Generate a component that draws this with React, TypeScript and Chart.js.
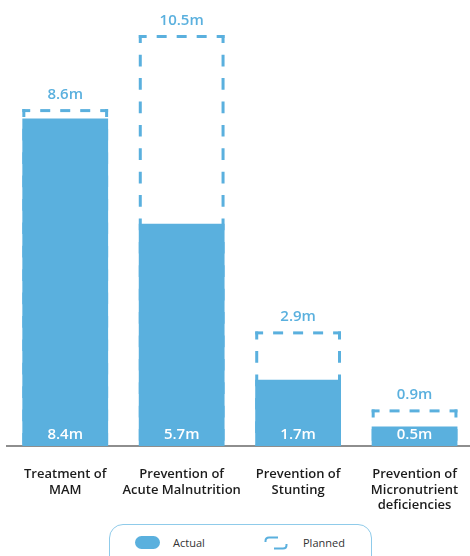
import React, { useEffect, useRef } from "react";
import { Chart, registerables } from "chart.js";

Chart.register(...registerables);

// Programme categories (multi-line tick labels)
const categories: string[][] = [
  ["Treatment of", "MAM"],
  ["Prevention of", "Acute Malnutrition"],
  ["Prevention of", "Stunting"],
  ["Prevention of", "Micronutrient", "deficiencies"],
];
// Beneficiaries reached vs. planned, in millions
const actualValues = [8.4, 5.7, 1.7, 0.5];
const plannedValues = [8.6, 10.5, 2.9, 0.9];
const valueSuffix = "m";

const BLUE = "#5AB0DE";
const FONT = '"Open Sans", "Noto Sans", sans-serif';

const fmt = (v: number) => `${v.toFixed(1)}${valueSuffix}`;

// Dashed outline around each "planned" bar, drawn beneath the solid "actual" bars
const plannedOutline = {
  id: "plannedOutline",
  beforeDatasetsDraw(chart: any) {
    const meta = chart.getDatasetMeta(1);
    const ctx = chart.ctx as CanvasRenderingContext2D;
    ctx.save();
    ctx.strokeStyle = BLUE;
    ctx.lineWidth = 3;
    ctx.lineCap = "butt";
    meta.data.forEach((bar: any) => {
      const { x, y, base, width } = bar.getProps(["x", "y", "base", "width"], true);
      const L = x - width / 2;
      const R = x + width / 2;
      const W = R - L;
      // top edge, dash pattern centred on the bar
      ctx.setLineDash([10, 10]);
      ctx.lineDashOffset = (((5 - W / 2) % 20) + 20) % 20;
      ctx.beginPath();
      ctx.moveTo(L, y);
      ctx.lineTo(R, y);
      ctx.stroke();
      // side edges
      ctx.setLineDash([11.7, 11.7]);
      ctx.lineDashOffset = 3.7;
      ctx.beginPath();
      ctx.moveTo(L + 1.5, y - 1.5);
      ctx.lineTo(L + 1.5, base);
      ctx.stroke();
      ctx.beginPath();
      ctx.moveTo(R - 1.5, y - 1.5);
      ctx.lineTo(R - 1.5, base);
      ctx.stroke();
    });
    ctx.restore();
  },
};

// Value labels: planned above the dashed box, actual inside the bar foot
const valueLabels = {
  id: "valueLabels",
  afterDatasetsDraw(chart: any) {
    const ctx = chart.ctx as CanvasRenderingContext2D;
    const actualMeta = chart.getDatasetMeta(0);
    const plannedMeta = chart.getDatasetMeta(1);
    ctx.save();
    ctx.font = `600 15px ${FONT}`;
    ctx.textAlign = "center";
    ctx.textBaseline = "middle";
    plannedMeta.data.forEach((bar: any, i: number) => {
      const { x, y } = bar.getProps(["x", "y"], true);
      ctx.fillStyle = BLUE;
      ctx.fillText(fmt(plannedValues[i]), x, y - 16);
    });
    actualMeta.data.forEach((bar: any, i: number) => {
      const { x, base } = bar.getProps(["x", "base"], true);
      ctx.fillStyle = "#ffffff";
      ctx.fillText(fmt(actualValues[i]), x, base - 11);
    });
    ctx.restore();
  },
};

export default function App() {
  const canvasRef = useRef<HTMLCanvasElement | null>(null);

  useEffect(() => {
    if (!canvasRef.current) return;
    const chart = new Chart(canvasRef.current, {
      type: "bar",
      data: {
        labels: categories,
        datasets: [
          {
            label: "Actual",
            data: actualValues,
            backgroundColor: BLUE,
            borderWidth: 0,
            grouped: false,
            categoryPercentage: 1,
            barPercentage: 0.7366,
          },
          {
            label: "Planned",
            data: plannedValues,
            backgroundColor: "rgba(0,0,0,0)",
            borderWidth: 0,
            grouped: false,
            categoryPercentage: 1,
            barPercentage: 0.7366,
          },
        ],
      },
      options: {
        responsive: false,
        animation: false,
        devicePixelRatio: 1,
        layout: { padding: { left: 7, right: 6, top: 17, bottom: 0 } },
        plugins: {
          legend: { display: false },
          tooltip: { enabled: false },
        },
        scales: {
          x: {
            grid: { display: false, drawTicks: false },
            border: { display: true, color: "#8e8e8e", width: 2 },
            ticks: {
              color: "#1c1c1c",
              padding: 21,
              maxRotation: 0,
              autoSkip: false,
              font: { family: FONT, size: 13, weight: "600", lineHeight: 1.18 },
            },
            afterFit: (scale: any) => {
              scale.height = 74;
            },
          },
          y: {
            display: false,
            min: 0,
            max: 11,
          },
        },
      },
      plugins: [plannedOutline, valueLabels],
    } as any);
    return () => chart.destroy();
  }, []);

  const textStyle: React.CSSProperties = {
    position: "absolute",
    top: 535,
    fontFamily: FONT,
    fontSize: 11,
    lineHeight: "16px",
    color: "#333",
    whiteSpace: "nowrap",
  };

  return (
    <div
      style={{
        position: "fixed",
        left: 0,
        top: 0,
        width: 470,
        height: 556,
        overflow: "hidden",
        background: "#fff",
      }}
    >
      <canvas
        ref={canvasRef}
        width={480}
        height={520}
        style={{ position: "absolute", left: 0, top: 0, width: 480, height: 520 }}
      />
      <div
        style={{
          position: "absolute",
          left: 109,
          top: 524,
          width: 261,
          height: 44,
          border: "1px solid #8FCBEA",
          borderRadius: 14,
        }}
      />
      <div
        style={{
          position: "absolute",
          left: 135,
          top: 536,
          width: 25,
          height: 13,
          borderRadius: 7,
          background: BLUE,
        }}
      />
      <div style={{ ...textStyle, left: 173 }}>Actual</div>
      <svg
        width={24}
        height={14}
        viewBox="0 0 24 14"
        style={{ position: "absolute", left: 264, top: 536 }}
      >
        <path d="M1.5 6 V5 Q1.5 1.5 5 1.5 H14" fill="none" stroke={BLUE} strokeWidth={2} />
        <path d="M10 12.5 H19 Q22.5 12.5 22.5 9 V8" fill="none" stroke={BLUE} strokeWidth={2} />
      </svg>
      <div style={{ ...textStyle, left: 303 }}>Planned</div>
    </div>
  );
}
